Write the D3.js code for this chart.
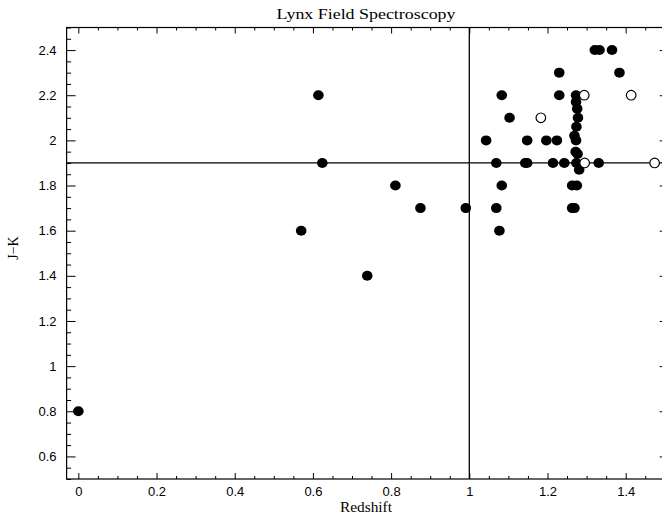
<!DOCTYPE html>
<html>
<head>
<meta charset="utf-8">
<script src="https://cdn.jsdelivr.net/npm/d3@7"></script>
<style>
  html, body { margin: 0; padding: 0; background: #fff; }
  svg { display: block; }
  text { font-family: "Liberation Serif", "DejaVu Serif", serif; fill: #000; }
</style>
</head>
<body>
<svg id="chart" width="662" height="517"></svg>
<script>
// ---- Data ----
const filledZ  = [0.000, 0.570, 0.614, 0.624, 0.739, 0.811, 0.875, 0.991,
                  1.043, 1.069, 1.069, 1.077, 1.083, 1.083, 1.103, 1.143, 1.148, 1.148,
                  1.197, 1.214, 1.224, 1.230, 1.230, 1.243, 1.263, 1.263, 1.269, 1.275,
                  1.273, 1.273, 1.276, 1.278, 1.274, 1.269, 1.273, 1.272, 1.277, 1.274, 1.281,
                  1.331, 1.321, 1.333, 1.365, 1.384];
const filledJK = [0.80, 1.60, 2.20, 1.90, 1.40, 1.80, 1.70, 1.70,
                  2.00, 1.90, 1.70, 1.60, 1.80, 2.20, 2.10, 1.90, 1.90, 2.00,
                  2.00, 1.90, 2.00, 2.30, 2.20, 1.90, 1.80, 1.70, 1.70, 1.80,
                  2.20, 2.17, 2.14, 2.10, 2.06, 2.02, 2.00, 1.95, 1.94, 1.90, 1.87,
                  1.90, 2.40, 2.40, 2.40, 2.30];
const openZ  = [1.183, 1.294, 1.414, 1.295, 1.474];
const openJK = [2.10, 2.20, 2.20, 1.90, 1.90];

const xMajorTicks = [0, 0.2, 0.4, 0.6, 0.8, 1, 1.2, 1.4];
const yMajorTicks = [0.6, 0.8, 1, 1.2, 1.4, 1.6, 1.8, 2, 2.2, 2.4];
const xTickLabels = ["0", "0.2", "0.4", "0.6", "0.8", "1", "1.2", "1.4"];
const yTickLabels = ["0.6", "0.8", "1", "1.2", "1.4", "1.6", "1.8", "2", "2.2", "2.4"];
const refX = 1.0;   // vertical reference line (Redshift)
const refY = 1.9;   // horizontal reference line (J-K)

const titleText = "Lynx Field Spectroscopy";
const xLabel = "Redshift";
const yLabel = "J\u2212K";

// ---- Layout ----
const svg = d3.select("#chart");
const x = d3.scaleLinear().domain([-0.03, 1.51]).range([66.6, 668.7]);
const y = d3.scaleLinear().domain([0.5, 2.5]).range([479, 27.5]);
const [x0, x1] = x.range();
const [yB, yT] = y.range();

const xMinor = d3.range(0, 1.5001, 0.05).map(v => +v.toFixed(2)).filter(v => !xMajorTicks.some(m => Math.abs(m - v) < 1e-6));
const yMinor = d3.range(0.5, 2.5001, 0.05).map(v => +v.toFixed(2)).filter(v => !yMajorTicks.some(m => Math.abs(m - v) < 1e-6));

function styleAxis(g) {
  g.select(".domain").remove();
  g.selectAll(".tick line").attr("stroke", "#000").attr("stroke-width", 1);
  g.selectAll(".tick text").style("font-size", "13px").attr("fill", "#000")
    .style("font-family", "'Liberation Sans', 'DejaVu Sans', sans-serif");
}
const fmtX = d => xTickLabels[xMajorTicks.indexOf(d)];
const fmtY = d => yTickLabels[yMajorTicks.indexOf(d)];

// bottom
svg.append("g").attr("transform", `translate(0,${yB})`)
  .call(d3.axisBottom(x).tickValues(xMajorTicks).tickFormat(fmtX).tickSize(-6).tickPadding(8)).call(styleAxis);
svg.append("g").attr("transform", `translate(0,${yB})`)
  .call(d3.axisBottom(x).tickValues(xMinor).tickFormat("").tickSize(-3)).call(styleAxis);
// top
svg.append("g").attr("transform", `translate(0,${yT})`)
  .call(d3.axisTop(x).tickValues(xMajorTicks).tickFormat("").tickSize(-6)).call(styleAxis);
svg.append("g").attr("transform", `translate(0,${yT})`)
  .call(d3.axisTop(x).tickValues(xMinor).tickFormat("").tickSize(-3)).call(styleAxis);
// left
svg.append("g").attr("transform", `translate(${x0},0)`)
  .call(d3.axisLeft(y).tickValues(yMajorTicks).tickFormat(fmtY).tickSize(-9).tickPadding(10)).call(styleAxis);
svg.append("g").attr("transform", `translate(${x0},0)`)
  .call(d3.axisLeft(y).tickValues(yMinor).tickFormat("").tickSize(-4.5)).call(styleAxis);
// right
svg.append("g").attr("transform", `translate(${x1},0)`)
  .call(d3.axisRight(y).tickValues(yMajorTicks).tickFormat("").tickSize(-9)).call(styleAxis);
svg.append("g").attr("transform", `translate(${x1},0)`)
  .call(d3.axisRight(y).tickValues(yMinor).tickFormat("").tickSize(-4.5)).call(styleAxis);

// frame
svg.append("rect").attr("x", x0).attr("y", yT).attr("width", x1 - x0).attr("height", yB - yT)
  .attr("fill", "none").attr("stroke", "#000").attr("stroke-width", 1.2);

// reference lines
svg.append("line").attr("x1", x(refX)).attr("x2", x(refX)).attr("y1", yT).attr("y2", yB)
  .attr("stroke", "#000").attr("stroke-width", 1.3);
svg.append("line").attr("x1", x0).attr("x2", x1).attr("y1", y(refY)).attr("y2", y(refY))
  .attr("stroke", "#000").attr("stroke-width", 1.3);

// points
const filled = filledZ.map((z, i) => ({ z, jk: filledJK[i] }));
const open = openZ.map((z, i) => ({ z, jk: openJK[i] }));
svg.append("g").selectAll("ellipse").data(filled).join("ellipse")
  .attr("cx", d => x(d.z)).attr("cy", d => y(d.jk)).attr("rx", 5.3).attr("ry", 5)
  .attr("fill", "#000");
svg.append("g").selectAll("circle").data(open).join("circle")
  .attr("cx", d => x(d.z)).attr("cy", d => y(d.jk)).attr("r", 4.8)
  .attr("fill", "#fff").attr("stroke", "#000").attr("stroke-width", 1.2);

// titles
svg.append("text").attr("x", 366).attr("y", 19).attr("text-anchor", "middle")
  .style("font-size", "14px").attr("textLength", 179).attr("lengthAdjust", "spacingAndGlyphs")
  .text(titleText);
svg.append("text").attr("x", 366).attr("y", 512).attr("text-anchor", "middle")
  .style("font-size", "14px").attr("textLength", 52).attr("lengthAdjust", "spacingAndGlyphs")
  .text(xLabel);
svg.append("text").attr("transform", "translate(18,248) rotate(-90)").attr("text-anchor", "middle")
  .style("font-size", "14px").text(yLabel);
</script>
</body>
</html>
